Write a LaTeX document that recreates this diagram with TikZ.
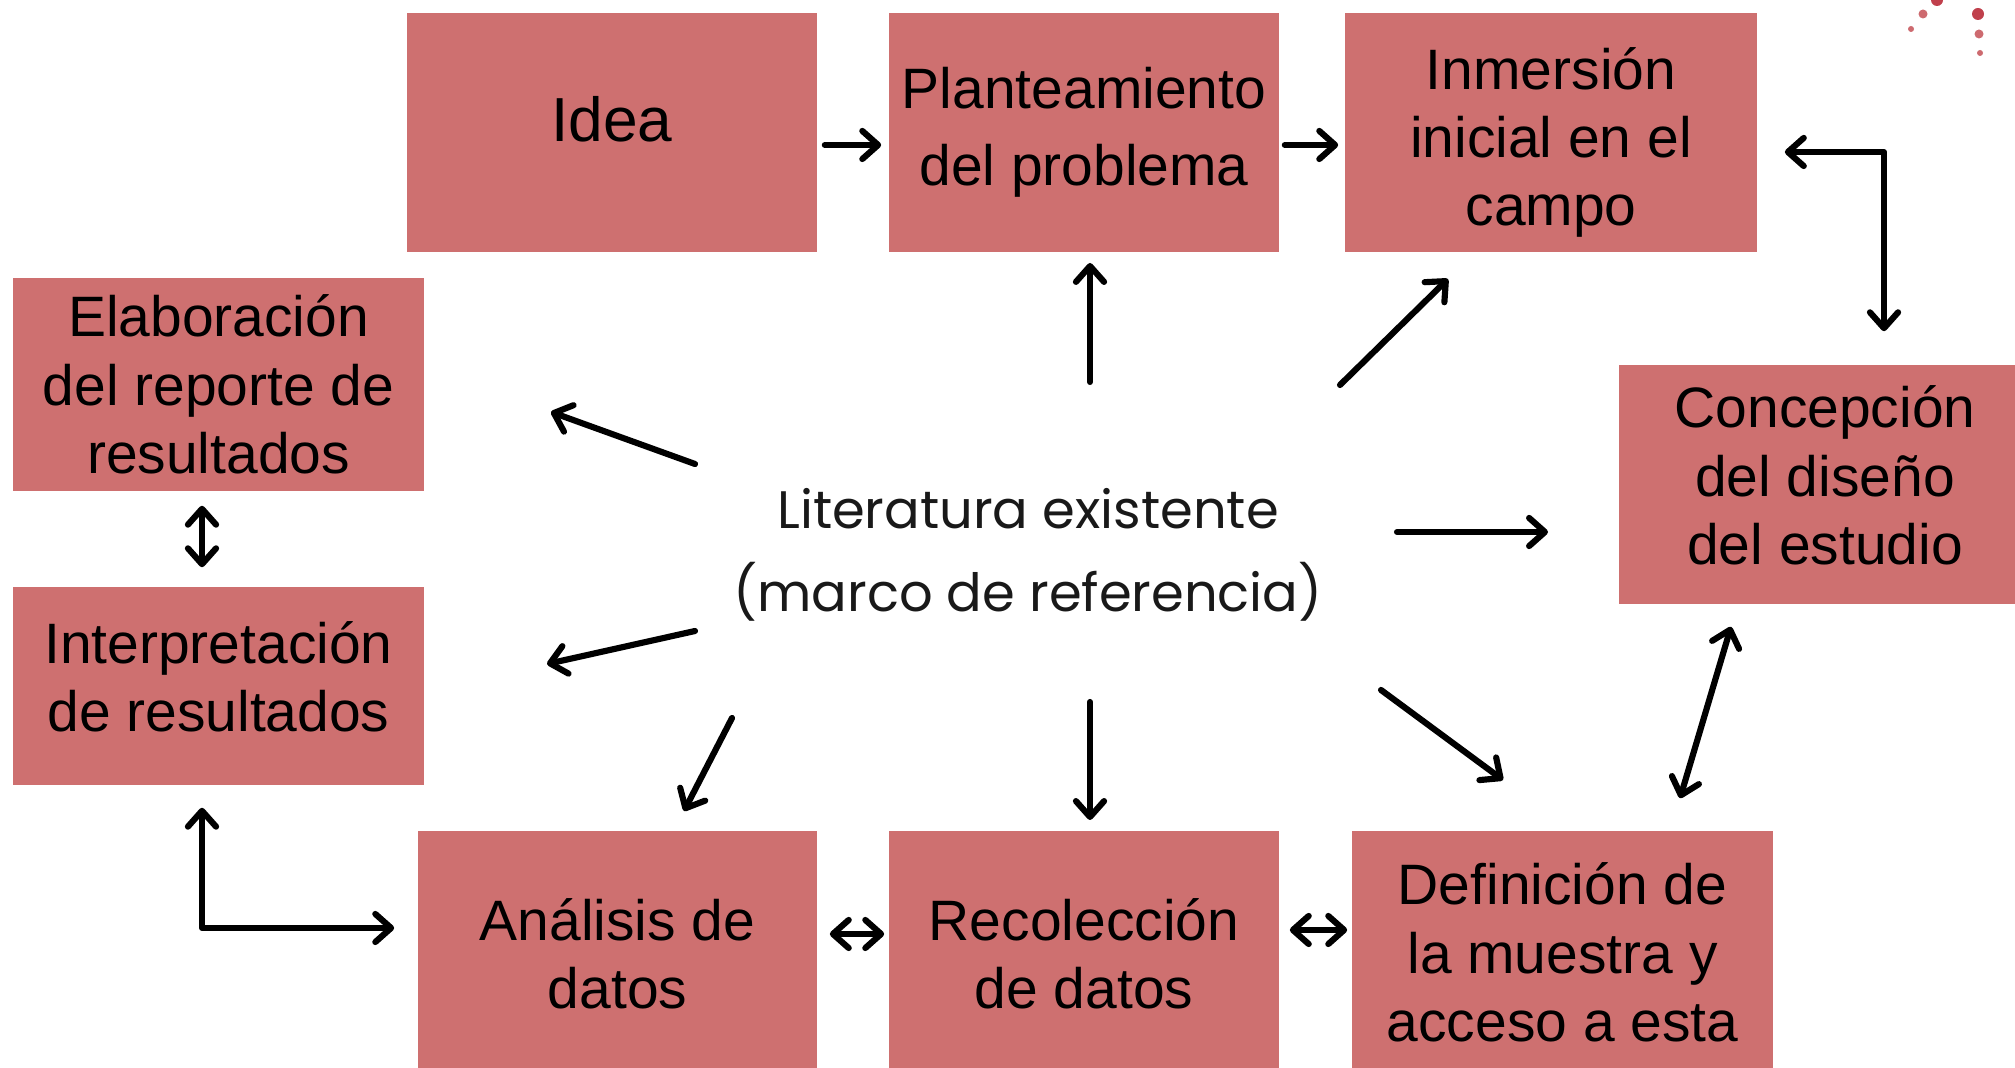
\documentclass[tikz,border=0pt]{standalone}
\usepackage{fontspec}
\setmainfont{Liberation Sans}
\newfontfamily\litfont{Poppins}
\usetikzlibrary{arrows.meta,calc}
\definecolor{boxred}{RGB}{206,112,112}
\definecolor{dotdark}{RGB}{192,64,76}
\definecolor{dotlight}{RGB}{205,106,111}
\begin{document}
\begin{tikzpicture}[x=0.01cm,y=-0.01cm,
  box/.style={fill=boxred, draw=none, inner sep=0pt},
  boxtext/.style={align=center, inner sep=0pt,
    font=\fontsize{16.2pt}{19.4pt}\selectfont, text=black},
  arr/.style={line width=1.75pt, line cap=round, line join=round,
    -{Straight Barb[length=4.5pt,width=8pt,line cap=round,line join=round]}},
  darr/.style={line width=1.75pt, line cap=round, line join=round,
    {Straight Barb[length=4.5pt,width=8pt,line cap=round,line join=round]}-{Straight Barb[length=4.5pt,width=8pt,line cap=round,line join=round]}}
]
\useasboundingbox (0,0) rectangle (2015,1068);

% boxes
\node[box, minimum width=4.10cm, minimum height=2.39cm] (idea) at (612,132.5) {};
\node[box, minimum width=3.90cm, minimum height=2.39cm] (plan) at (1084,132.5) {};
\node[box, minimum width=4.12cm, minimum height=2.39cm] (inm) at (1551,132.5) {};
\node[box, minimum width=4.11cm, minimum height=2.13cm] (elab) at (218.5,384.5) {};
\node[box, minimum width=4.11cm, minimum height=1.98cm] (interp) at (218.5,686) {};
\node[box, minimum width=3.96cm, minimum height=2.39cm] (conc) at (1817,484.5) {};
\node[box, minimum width=3.99cm, minimum height=2.37cm] (anal) at (617.5,949.5) {};
\node[box, minimum width=3.90cm, minimum height=2.37cm] (reco) at (1084,949.5) {};
\node[box, minimum width=4.21cm, minimum height=2.37cm] (defi) at (1562.5,949.5) {};

% box texts
\node[boxtext, font=\fontsize{17.7pt}{21pt}\selectfont] (ideat) at ($(idea)+(0,-13)$) {Idea};
\node[boxtext, font=\fontsize{16.2pt}{21.9pt}\selectfont] (plant) at (plan) {Planteamiento\\del problema};
\node[boxtext] (inmt) at ($(inm)+(0,10)$) {Inmersión\\inicial en el\\campo};
\node[boxtext] (elabt) at (elab) {Elaboración\\del reporte de\\resultados};
\node[boxtext] (interpt) at ($(interp)+(0,-9)$) {Interpretación\\de resultados};
\node[boxtext] (conct) at ($(conc)+(8,-9)$) {Concepción\\del diseño\\del estudio};
\node[boxtext] (analt) at ($(anal)+(0,4)$) {Análisis de\\datos};
\node[boxtext] (recot) at ($(reco)+(0,4)$) {Recolección\\de datos};
\node[boxtext] (defit) at ($(defi)+(0,3)$) {Definición de\\la muestra y\\acceso a esta};

% centre text
\node[align=center, font=\litfont\fontsize{15pt}{23.6pt}\selectfont, text=black!90] (lit) at (1028,555) {Literatura existente\\(marco de referencia)};

% box-to-box connectors
\draw[arr] ($(idea.east)+(7,12.5)$) -- ($(plan.west)+(-7,12.5)$);
\draw[arr] ($(plan.east)+(5,12.5)$) -- ($(inm.west)+(-6,12.5)$);
\draw[darr] ($(inm.east)+(27,19.5)$) -| ($(conc.north)+(67,-33)$);
\draw[darr] ($(elab.south)+(-16.5,14)$) -- ($(interp.north)+(-16.5,-19)$);
\draw[darr] ($(interp.south)+(-16.5,22)$) |- ($(anal.west)+(-23,-21.5)$);
\draw[darr] ($(anal.east)+(12,-15.5)$) -- ($(reco.west)+(-4,-15.5)$);
\draw[darr] ($(reco.east)+(10,-19.5)$) -- ($(defi.west)+(-4,-19.5)$);
\draw[darr] ($(defi.north)+(117.5,-32)$) -- ($(conc.south)+(-86,22)$);

% arrows from the centre
\coordinate (s1) at (1090,382);  \coordinate (e1) at (1090,263);
\coordinate (s2) at (1340,385);  \coordinate (e2) at (1448,279);
\coordinate (s3) at (1397,532);  \coordinate (e3) at (1548,532);
\coordinate (s4) at (1381,690);  \coordinate (e4) at (1503,780);
\coordinate (s5) at (1090,702);  \coordinate (e5) at (1090,820);
\coordinate (s6) at (732,718);   \coordinate (e6) at (684,811);
\coordinate (s7) at (695,631);   \coordinate (e7) at (547,664);
\coordinate (s8) at (695,464);   \coordinate (e8) at (551,412);
\foreach \i in {1,...,8} {\draw[arr] (s\i) -- (e\i);}

% decoration dots
\fill[dotdark] (1937,0) circle[radius=0.06cm];
\fill[dotlight] (1923,14) circle[radius=0.045cm];
\fill[dotlight] (1911,29) circle[radius=0.03cm];
\fill[dotdark] (1978,14) circle[radius=0.06cm];
\fill[dotlight] (1979,34) circle[radius=0.045cm];
\fill[dotlight] (1980,53) circle[radius=0.03cm];
\end{tikzpicture}
\end{document}
